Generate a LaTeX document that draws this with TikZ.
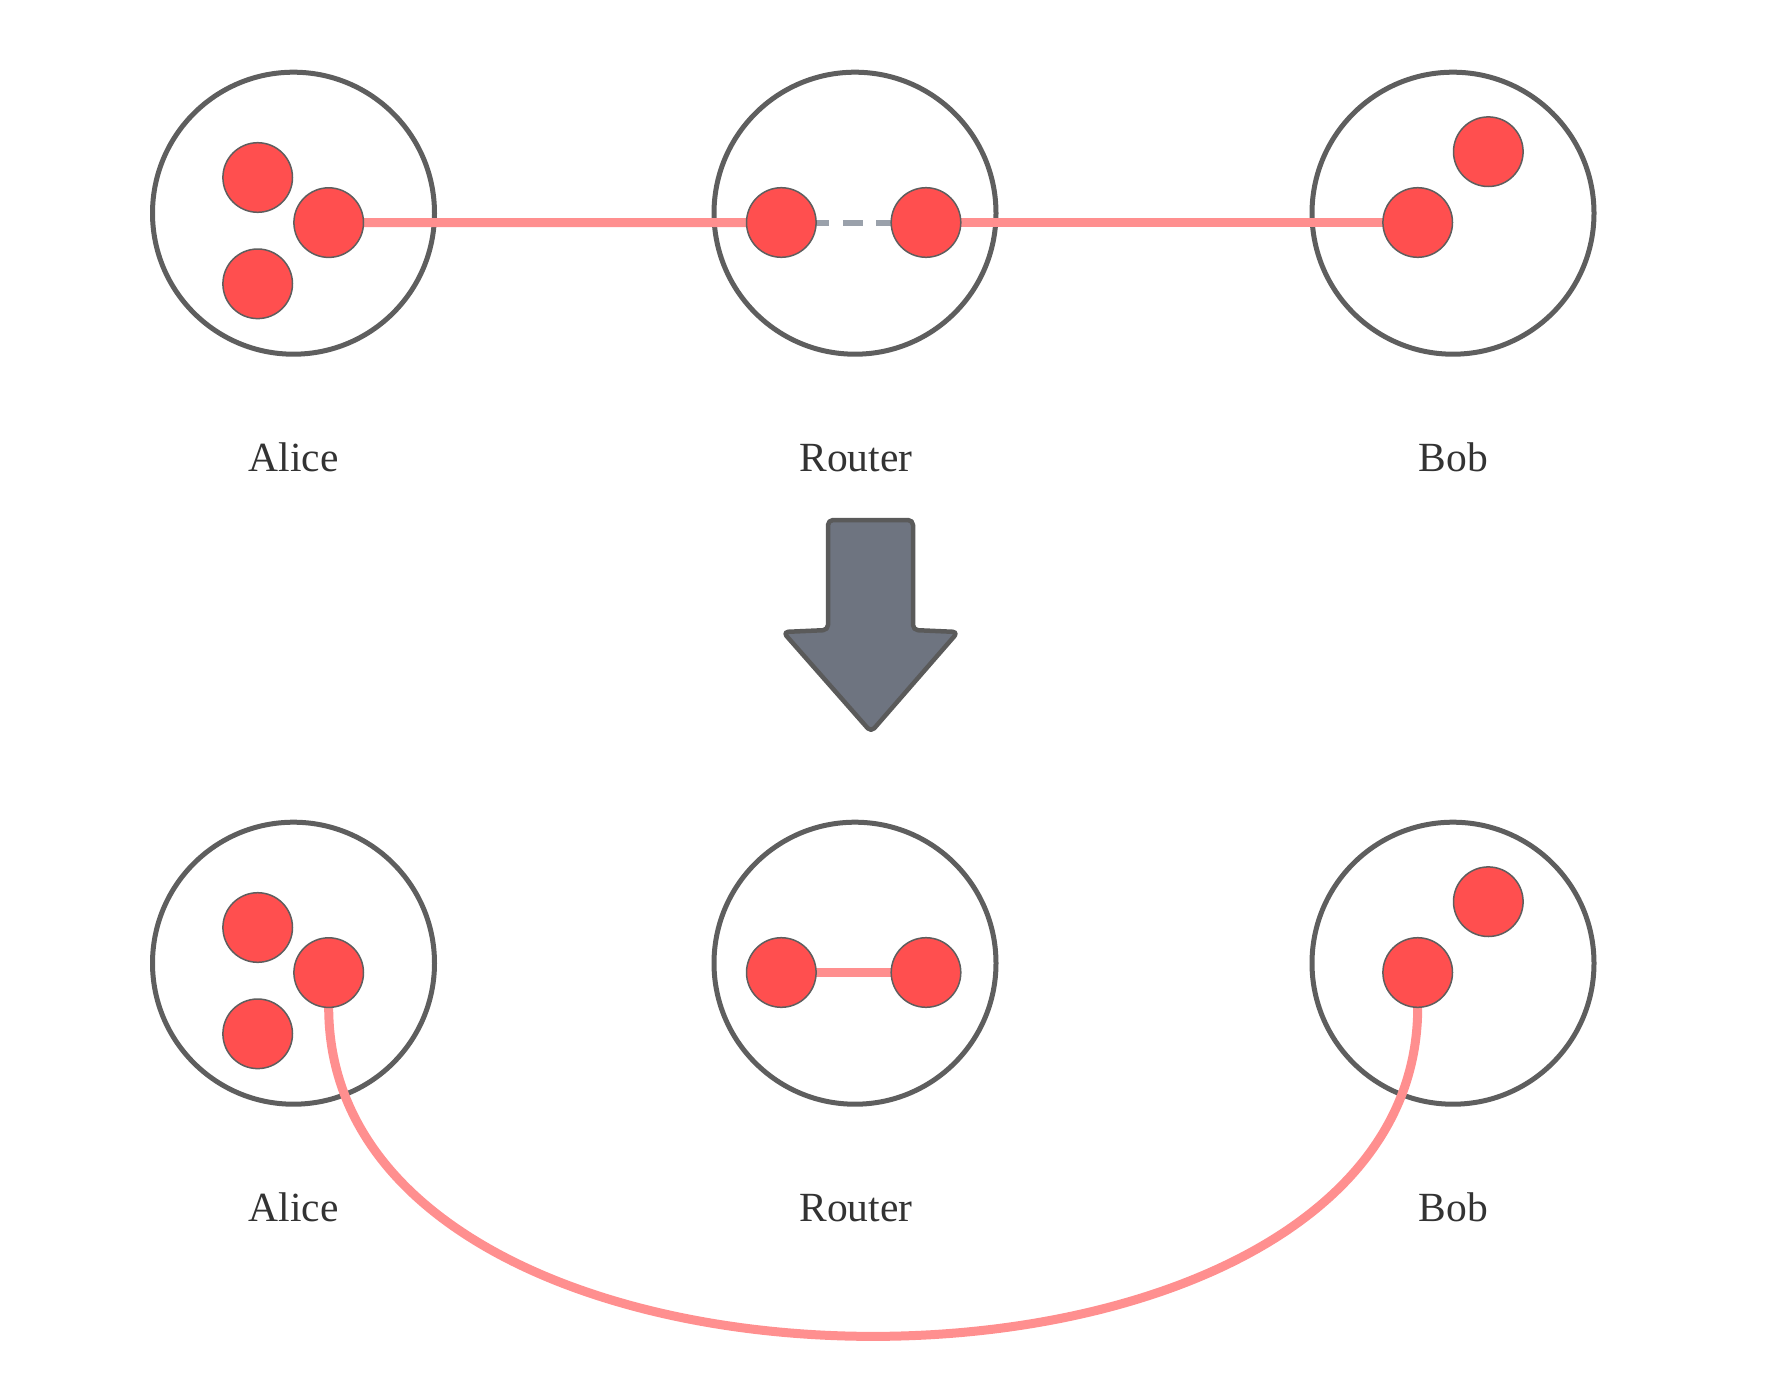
\documentclass[tikz,border=0pt]{standalone}
\usepackage{fontspec}
\setmainfont{Liberation Serif}
\definecolor{cgray}{HTML}{5E5E5E}
\definecolor{cred}{HTML}{FF4F4F}
\definecolor{cpink}{HTML}{FF8F8F}
\definecolor{cdash}{HTML}{9AA1AB}
\definecolor{ctext}{HTML}{333333}
\definecolor{afill}{HTML}{6E7480}
\definecolor{adraw}{HTML}{5A5A5A}
\pgfdeclarelayer{bg}
\pgfdeclarelayer{mid}
\pgfsetlayers{bg,mid,main}
\begin{document}
\begin{tikzpicture}[x=1pt,y=-1pt,
  big/.style={circle,draw=cgray,line width=5pt,minimum size=282pt,inner sep=0pt,outer sep=0pt},
  dot/.style={circle,draw=cgray,fill=cred,line width=1.5pt,minimum size=69.6pt,inner sep=0pt,outer sep=0pt},
  link/.style={draw=cpink,line width=9pt},
  dashlink/.style={draw=cdash,line width=6pt,dash pattern=on 20pt off 13.5pt,dash phase=6.7pt},
  lbl/.style={font=\fontsize{41.5}{49}\selectfont,text=ctext,anchor=base,inner sep=0pt},
  bigarrow/.style={draw=adraw,fill=afill,line width=4.5pt,rounded corners=5pt,line join=round}]
\useasboundingbox (0,0) rectangle (1778,1389);
\foreach \r/\dy in {t/0,b/750}{
  \begin{pgfonlayer}{bg}
    \node[big] (A\r) at (293.5,{213.2+\dy}) {};
    \node[big] (R\r) at (855,{213.2+\dy}) {};
    \node[big] (B\r) at (1453,{213.2+\dy}) {};
  \end{pgfonlayer}
  \node[dot] (a1\r) at (257.7,{177.5+\dy}) {};
  \node[dot] (a2\r) at (328.7,{222.6+\dy}) {};
  \node[dot] (a3\r) at (257.7,{283.8+\dy}) {};
  \node[dot] (r1\r) at (781.3,{222.5+\dy}) {};
  \node[dot] (r2\r) at (926,{222.5+\dy}) {};
  \node[dot] (b1\r) at (1417.7,{222.5+\dy}) {};
  \node[dot] (b2\r) at (1488.3,{151.7+\dy}) {};
  \node[lbl] (LA\r) at (293.5,{471+\dy}) {Alice};
  \node[lbl] (LR\r) at (856,{471+\dy}) {Router};
  \node[lbl] (LB\r) at (1453.5,{471+\dy}) {Bob};
}
\begin{pgfonlayer}{mid}
  \draw[link] (a2t.center) -- (r1t.center);
  \draw[link] (r2t.center) -- (b1t.center);
  \draw[dashlink] (r1t.east) -- (r2t.west);
  \draw[link] (r1b.center) -- (r2b.center);
  \draw[link] (a2b.south) .. controls +(0,438.7) and +(0,438.7) .. (b1b.south);
\end{pgfonlayer}
\draw[bigarrow] (828,520) -- (913,520) -- (913,630) -- (958,632) -- (871,732) -- (783,632) -- (828,630) -- cycle;
\end{tikzpicture}
\end{document}
